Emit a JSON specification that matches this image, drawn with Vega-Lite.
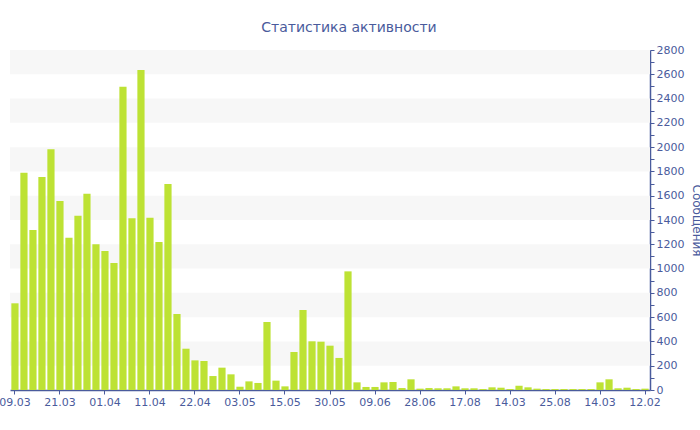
{
  "$schema": "https://vega.github.io/schema/vega-lite/v6.json",
  "autosize": "none",
  "width": 640,
  "height": 340,
  "padding": {"left": 10, "top": 50, "right": 50, "bottom": 40},
  "background": "white",
  "title": {
    "text": "Статистика активности",
    "font": "DejaVu Sans",
    "fontSize": 14,
    "fontWeight": "normal",
    "color": "#4a5b9c",
    "anchor": "middle",
    "dx": 19,
    "baseline": "alphabetic",
    "offset": -2
  },
  "datasets": {
    "bands": [
      {"lo": 200, "hi": 400},
      {"lo": 600, "hi": 800},
      {"lo": 1000, "hi": 1200},
      {"lo": 1400, "hi": 1600},
      {"lo": 1800, "hi": 2000},
      {"lo": 2200, "hi": 2400},
      {"lo": 2600, "hi": 2800}
    ],
    "msgs": [
      {"i": 0, "n": 714}, {"i": 1, "n": 1790}, {"i": 2, "n": 1318}, {"i": 3, "n": 1754},
      {"i": 4, "n": 1982}, {"i": 5, "n": 1556}, {"i": 6, "n": 1254}, {"i": 7, "n": 1436},
      {"i": 8, "n": 1617}, {"i": 9, "n": 1200}, {"i": 10, "n": 1145}, {"i": 11, "n": 1046},
      {"i": 12, "n": 2498}, {"i": 13, "n": 1414}, {"i": 14, "n": 2635}, {"i": 15, "n": 1419},
      {"i": 16, "n": 1219}, {"i": 17, "n": 1696}, {"i": 18, "n": 626}, {"i": 19, "n": 340},
      {"i": 20, "n": 244}, {"i": 21, "n": 239}, {"i": 22, "n": 115}, {"i": 23, "n": 184},
      {"i": 24, "n": 129}, {"i": 25, "n": 27}, {"i": 26, "n": 71}, {"i": 27, "n": 58},
      {"i": 28, "n": 560}, {"i": 29, "n": 77}, {"i": 30, "n": 30}, {"i": 31, "n": 313},
      {"i": 32, "n": 659}, {"i": 33, "n": 401}, {"i": 34, "n": 398}, {"i": 35, "n": 365},
      {"i": 36, "n": 264}, {"i": 37, "n": 977}, {"i": 38, "n": 63}, {"i": 39, "n": 25},
      {"i": 40, "n": 25}, {"i": 41, "n": 63}, {"i": 42, "n": 66}, {"i": 43, "n": 16},
      {"i": 44, "n": 88}, {"i": 45, "n": 11}, {"i": 46, "n": 16}, {"i": 47, "n": 14},
      {"i": 48, "n": 14}, {"i": 49, "n": 30}, {"i": 50, "n": 14}, {"i": 51, "n": 14},
      {"i": 52, "n": 8}, {"i": 53, "n": 22}, {"i": 54, "n": 19}, {"i": 55, "n": 8},
      {"i": 56, "n": 35}, {"i": 57, "n": 22}, {"i": 58, "n": 11}, {"i": 59, "n": 8},
      {"i": 60, "n": 8}, {"i": 61, "n": 8}, {"i": 62, "n": 8}, {"i": 63, "n": 8},
      {"i": 64, "n": 8}, {"i": 65, "n": 63}, {"i": 66, "n": 88}, {"i": 67, "n": 14},
      {"i": 68, "n": 19}, {"i": 69, "n": 8}, {"i": 70, "n": 11}
    ]
  },
  "config": {
    "view": {"stroke": null},
    "axis": {
      "labelFont": "DejaVu Sans",
      "labelFontSize": 11,
      "labelColor": "#4a5b9c",
      "titleFont": "DejaVu Sans",
      "titleFontWeight": "normal",
      "titleColor": "#4a5b9c",
      "domainColor": "#4a5b9c",
      "tickColor": "#4a5b9c",
      "grid": false
    }
  },
  "resolve": {"axis": {"y": "independent"}},
  "layer": [
    {
      "data": {"name": "bands"},
      "mark": {"type": "rect", "color": "#f7f7f7"},
      "encoding": {
        "y": {
          "field": "lo", "type": "quantitative",
          "scale": {"domain": [0, 2800], "nice": false},
          "axis": {
            "orient": "right",
            "title": "Сообщения",
            "titleFontSize": 12,
            "titleAngle": 90,
            "titlePadding": 6,
            "values": [0, 200, 400, 600, 800, 1000, 1200, 1400, 1600, 1800, 2000, 2200, 2400, 2600, 2800],
            "format": "d",
            "tickSize": 4,
            "labelPadding": 2,
            "labelBaseline": "middle",
            "labelOverlap": false,
            "domainWidth": 1.5
          }
        },
        "y2": {"field": "hi"}
      }
    },
    {
      "data": {"name": "msgs"},
      "mark": {"type": "bar", "color": "#bde234"},
      "encoding": {
        "x": {
          "field": "i", "type": "ordinal",
          "scale": {"paddingInner": 0.2, "paddingOuter": 0.15},
          "axis": {
            "title": null,
            "labelAngle": 0,
            "values": [0, 5, 10, 15, 20, 25, 30, 35, 40, 45, 50, 55, 60, 65, 70],
            "labelExpr": "['09.03','21.03','01.04','11.04','22.04','03.05','15.05','30.05','09.06','28.06','17.08','14.03','25.08','14.03','12.02'][datum.value / 5]",
            "tickSize": 4,
            "labelPadding": 2,
            "labelOverlap": false,
            "labelBound": false,
            "labelFlush": false,
            "domainWidth": 1.5
          }
        },
        "y": {
          "field": "n", "type": "quantitative",
          "axis": {
            "orient": "right",
            "title": null,
            "labels": false,
            "domain": false,
            "offset": 0,
            "values": [100, 300, 500, 700, 900, 1100, 1300, 1500, 1700, 1900, 2100, 2300, 2500, 2700],
            "tickSize": 4
          }
        }
      }
    }
  ]
}
